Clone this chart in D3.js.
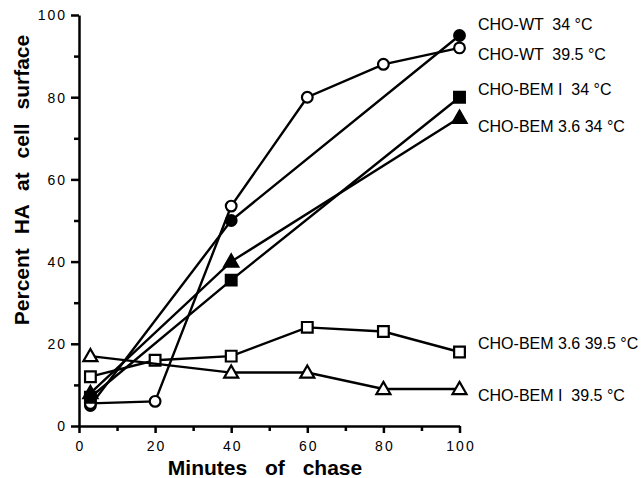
<!DOCTYPE html>
<html>
<head>
<meta charset="utf-8">
<script src="https://cdn.jsdelivr.net/npm/d3@7"></script>
<style>
  body { margin: 0; background: #fff; }
  svg { font-family: "Liberation Sans", Arial, sans-serif; }
  .tick text { font-size: 14px; letter-spacing: 2px; }
  .lbl { font-size: 16px; white-space: pre; }
  .title { font-size: 21px; font-weight: bold; }
</style>
</head>
<body>
<svg id="svg1" width="642" height="478"></svg>
<script>
// series names (as printed at right of each curve)
var names = ["CHO-WT  34 °C", "CHO-WT  39.5 °C", "CHO-BEM I  34 °C",
             "CHO-BEM 3.6 34 °C", "CHO-BEM 3.6 39.5 °C", "CHO-BEM I  39.5 °C"];
var symbols = ["circle", "circle", "square", "triangle", "square", "triangle"];
var filled = [true, false, true, true, false, false];

// minutes of chase / percent HA at cell surface
var wt34x = [3, 40, 100];
var wt34y = [5, 50, 95];
var wt395x = [3, 20, 40, 60, 80, 100];
var wt395y = [5.5, 6, 53.5, 80, 88, 92];
var bemI34x = [3, 40, 100];
var bemI34y = [7, 35.5, 80];
var bem3634x = [3, 40, 100];
var bem3634y = [8, 40, 75];
var bem36395x = [3, 20, 40, 60, 80, 100];
var bem36395y = [12, 16, 17, 24, 23, 18];
var bemI395x = [3, 40, 60, 80, 100];
var bemI395y = [17, 13, 13, 9, 9];

var xs = [wt34x, wt395x, bemI34x, bem3634x, bem36395x, bemI395x];
var ys = [wt34y, wt395y, bemI34y, bem3634y, bem36395y, bemI395y];
// where the label of each series sits, in percent units
var labelAt = [97.8, 90.5, 82, 73, 20.2, 7.5];

var xTicks = [0, 20, 40, 60, 80, 100];
var yTicks = [0, 20, 40, 60, 80, 100];

var svg = d3.select("#svg1");
var x = d3.scaleLinear().domain([0, 100]).range([79, 459.5]);
var y = d3.scaleLinear().domain([0, 100]).range([426, 15]);

// minor ticks first, then major ticks with labels
svg.append("g")
    .attr("transform", "translate(0,426)")
    .call(d3.axisBottom(x).tickValues(d3.range(10, 100, 20)).tickSize(5).tickFormat(""))
    .call(g => g.select(".domain").remove());
svg.append("g")
    .attr("transform", "translate(79,0)")
    .call(d3.axisLeft(y).tickValues(d3.range(10, 100, 20)).tickSize(5).tickFormat(""))
    .call(g => g.select(".domain").remove());

var xAxis = svg.append("g")
    .attr("transform", "translate(0,426)")
    .call(d3.axisBottom(x).tickValues(xTicks).tickSize(7).tickSizeOuter(0).tickPadding(8));
var yAxis = svg.append("g")
    .attr("transform", "translate(79,0)")
    .call(d3.axisLeft(y).tickValues(yTicks).tickSize(8).tickSizeOuter(0).tickPadding(4));

svg.selectAll(".domain, .tick line").attr("stroke", "#000").attr("stroke-width", 2.5);
svg.selectAll(".tick text").attr("fill", "#000").attr("font-family", null).attr("font-size", null);
xAxis.selectAll(".tick text").attr("dx", "1px");
yAxis.selectAll(".tick text").attr("dy", "0.35em");

// axis titles
svg.append("text").attr("class", "title")
    .attr("x", 265).attr("y", 475)
    .attr("text-anchor", "middle")
    .style("word-spacing", "12px")
    .text("Minutes of chase");
svg.append("text").attr("class", "title")
    .attr("transform", "translate(29,180) rotate(-90)")
    .attr("text-anchor", "middle")
    .style("word-spacing", "8px")
    .text("Percent HA at cell surface");

var line = d3.line().x(d => x(d[0])).y(d => y(d[1]));

names.forEach(function(name, i) {
    var pts = xs[i].map((v, j) => [v, ys[i][j]]);
    svg.append("path")
        .datum(pts)
        .attr("d", line)
        .attr("fill", "none")
        .attr("stroke", "#000")
        .attr("stroke-width", 2.4);

    var sym = symbols[i] == "circle" ? d3.symbolCircle
            : symbols[i] == "square" ? d3.symbolSquare : d3.symbolTriangle;
    var size = symbols[i] == "circle" ? 90 : symbols[i] == "square" ? 115 : 85;
    svg.append("g").selectAll("path")
        .data(pts)
        .enter()
        .append("path")
        .attr("transform", d => `translate(${x(d[0])},${y(d[1]) + (symbols[i] == "triangle" ? 1 : 0)})`)
        .attr("d", d3.symbol().type(sym).size(size))
        .attr("fill", filled[i] ? "#000" : "#fff")
        .attr("stroke", "#000")
        .attr("stroke-width", 2.2);

    svg.append("text").attr("class", "lbl")
        .attr("x", 478)
        .attr("y", y(labelAt[i]))
        .attr("dy", "0.35em")
        .text(name);
});
</script>
</body>
</html>
